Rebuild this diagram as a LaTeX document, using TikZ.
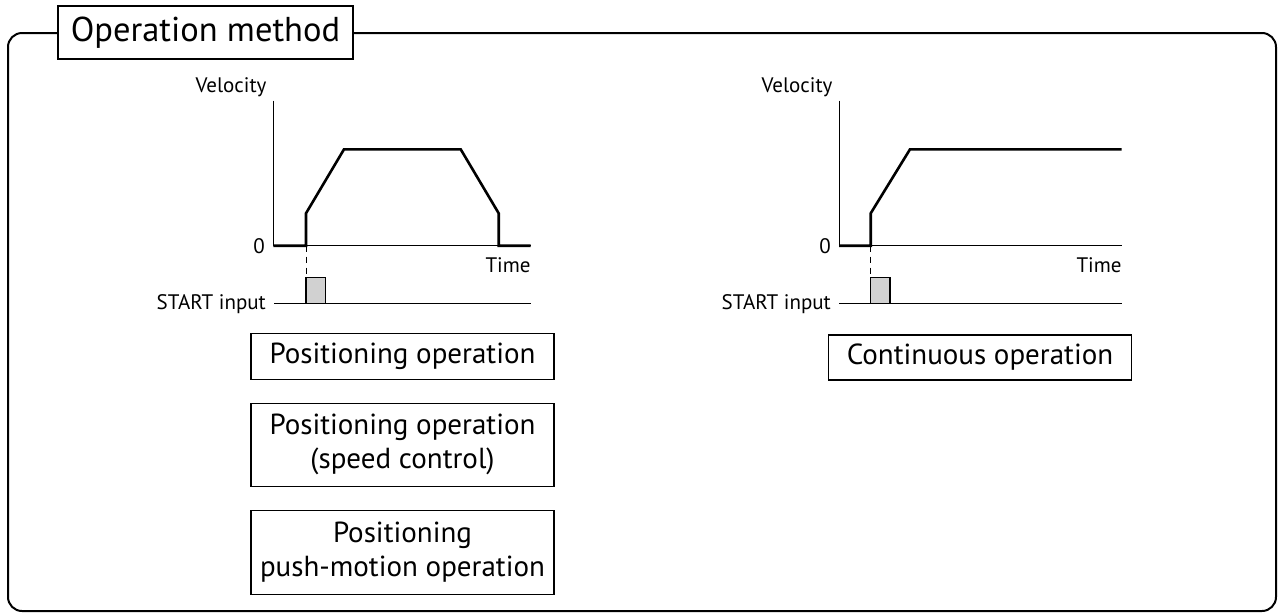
\documentclass[tikz,border=0pt]{standalone}
\usepackage{fontspec}
\setmainfont{PT Sans}
\usetikzlibrary{positioning}

\begin{document}
\begin{tikzpicture}[
        x=1pt, y=-1pt,
        frame/.style={draw, line width=2pt},
        axis/.style={line width=1pt},
        profile/.style={line width=2.6pt, line join=miter},
        pulse/.style={line width=1.2pt},
        opbox/.style={draw, line width=1.2pt, fill=white, align=center, minimum width=303pt, font=\fontsize{29}{34}\selectfont},
        lbl/.style={inner sep=0pt, font=\fontsize{21}{25}\selectfont}
    ]
    \useasboundingbox (0,0) rectangle (1279,614);

    % Frame and title
    \draw[frame, rounded corners=14pt] (8,33) rectangle (1276,611);
    \node (title) [frame, fill=white, minimum width=295pt, minimum height=53pt, font=\fontsize{34.5}{40}\selectfont] at (205.5,32.5) {Operation method};

    % Left chart: positioning
    \node (velL) [lbl] at (231,87) {Velocity};
    \node (zeroL) [lbl, anchor=east] at (265,246) {0};
    \node (timeL) [lbl, anchor=east] at (530.7,265) {Time};
    \node (startL) [lbl, anchor=east] at (266,304) {START input};
    \draw[axis] (273.3,100.7) -- (273.3,245.7) -- (530.7,245.7);
    \draw[profile] (273.3,245.7) -- (306,245.7) -- (306,213.3) -- (344,149.3) -- (460.7,149.3) -- (498.7,213.3) -- (498.7,245.7) -- (530.7,245.7);
    \draw[axis, dash pattern=on 6pt off 5pt] (306,245.7) -- (306,277.3);
    \filldraw[pulse, fill=black!18] (306,303.3) rectangle (325.3,277.3);
    \draw[pulse] (274,303.3) -- (530.7,303.3);

    % Right chart: continuous
    \node (velR) [lbl] at (797,87) {Velocity};
    \node (zeroR) [lbl, anchor=east] at (831,246) {0};
    \node (timeR) [lbl, anchor=east] at (1121.7,265) {Time};
    \node (startR) [lbl, anchor=east] at (831,304) {START input};
    \draw[axis] (839,100.7) -- (839,245.7) -- (1121.7,245.7);
    \draw[profile] (839,245.7) -- (870.7,245.7) -- (870.7,213.3) -- (910,149.3) -- (1121.7,149.3);
    \draw[axis, dash pattern=on 6pt off 5pt] (870.7,245.7) -- (870.7,277.3);
    \filldraw[pulse, fill=black!18] (870.7,303.3) rectangle (890,277.3);
    \draw[pulse] (839,303.3) -- (1121.7,303.3);

    % Operation boxes
    \node (pos) [opbox, minimum height=46pt] at (402.5,356.3) {Positioning operation};
    \node (posspeed) [opbox, minimum height=82.7pt, below=23pt of pos] {Positioning operation\\(speed control)};
    \node (pospush) [opbox, minimum height=84pt, below=22.7pt of posspeed] {Positioning\\push-motion operation};
    \node (cont) [opbox, minimum height=45pt] at (980,357.5) {Continuous operation};
\end{tikzpicture}
\end{document}
